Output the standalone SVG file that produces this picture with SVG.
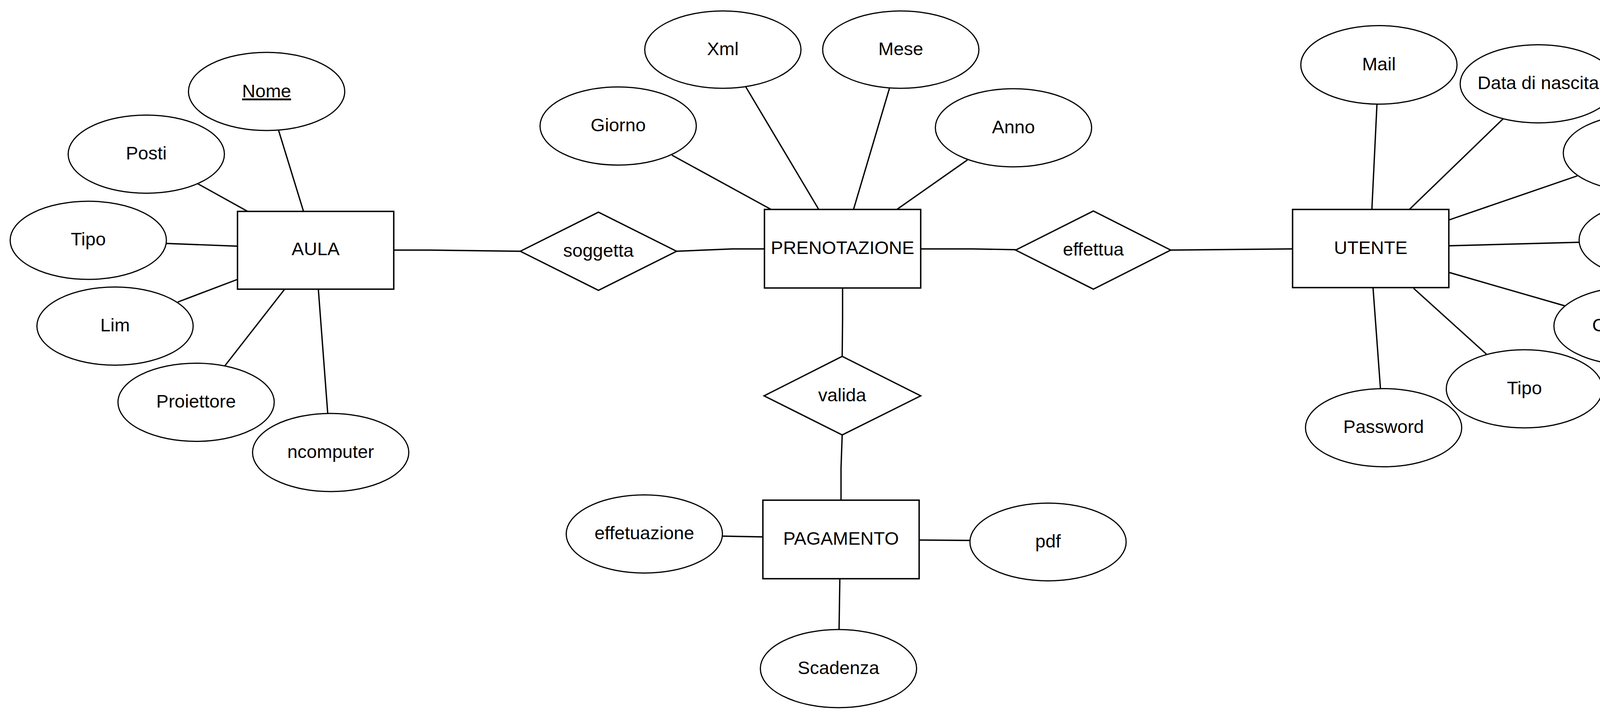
<svg xmlns="http://www.w3.org/2000/svg" width="4472" height="1840" viewBox="0 0 4472 1840">
<style>
.bg{fill:#ffffff}
.ent{fill:#ffffff;stroke:#000000;stroke-width:3.6}
.rel{fill:#ffffff;stroke:#000000;stroke-width:3.4;stroke-linejoin:miter}
.att{fill:#ffffff;stroke:#000000;stroke-width:3}
.lbl{font-family:"Liberation Sans",Arial,sans-serif;font-size:47px;fill:#000000;text-anchor:middle}
.key{text-decoration:underline}
.con{fill:none;stroke:#000000;stroke-width:3.4}
</style>
<rect class="bg" x="0" y="0" width="4472" height="1840"/>
<g id="connectors">
<line class="con" x1="713" y1="333" x2="777" y2="541"/>
<line class="con" x1="506" y1="470" x2="634" y2="541"/>
<line class="con" x1="426" y1="623" x2="608" y2="630"/>
<line class="con" x1="455" y1="773" x2="608" y2="715"/>
<line class="con" x1="575" y1="937" x2="728" y2="741"/>
<line class="con" x1="839" y1="1058" x2="815" y2="741"/>
<polyline class="con" points="1009,640 1100,640 1333,643"/>
<polyline class="con" points="1731,643 1875,637 1957,637"/>
<line class="con" x1="1720" y1="397" x2="1974" y2="536"/>
<line class="con" x1="1909" y1="222" x2="2096" y2="536"/>
<line class="con" x1="2277" y1="226" x2="2185" y2="536"/>
<line class="con" x1="2477" y1="409" x2="2296" y2="536"/>
<polyline class="con" points="2357,637 2490,637 2600,639"/>
<line class="con" x1="2997" y1="640" x2="3309" y2="637"/>
<polyline class="con" points="2157,737 2157,813 2156,912"/>
<polyline class="con" points="2156,1113 2153,1198 2153,1280"/>
<line class="con" x1="1850" y1="1372" x2="1953" y2="1374"/>
<line class="con" x1="2353" y1="1382" x2="2483" y2="1383"/>
<line class="con" x1="2150" y1="1481" x2="2148" y2="1611"/>
<line class="con" x1="3525" y1="267" x2="3512" y2="536"/>
<line class="con" x1="3848" y1="304" x2="3608" y2="536"/>
<line class="con" x1="4038" y1="450" x2="3709" y2="563"/>
<line class="con" x1="4043" y1="620" x2="3709" y2="629"/>
<line class="con" x1="4007" y1="783" x2="3709" y2="697"/>
<line class="con" x1="3806" y1="907" x2="3619" y2="738"/>
<line class="con" x1="3534" y1="995" x2="3515" y2="737"/>
</g>
<g id="AULA"><rect class="ent" x="608" y="541" width="400" height="199"/><text class="lbl" x="808" y="653">AULA</text></g>
<g id="AULA_Nome"><ellipse class="att" cx="682.5" cy="234" rx="200" ry="100"/><text class="lbl key" x="682.5" y="249">Nome</text></g>
<g id="AULA_Posti"><ellipse class="att" cx="374.5" cy="394.5" rx="200" ry="100"/><text class="lbl" x="374.5" y="408">Posti</text></g>
<g id="AULA_Tipo"><ellipse class="att" cx="226" cy="615" rx="200" ry="100"/><text class="lbl" x="226" y="628">Tipo</text></g>
<g id="AULA_Lim"><ellipse class="att" cx="294.5" cy="834.5" rx="200" ry="100"/><text class="lbl" x="294.5" y="848">Lim</text></g>
<g id="AULA_Proiettore"><ellipse class="att" cx="502" cy="1029.5" rx="200" ry="100"/><text class="lbl" x="502" y="1043">Proiettore</text></g>
<g id="AULA_ncomputer"><ellipse class="att" cx="846.5" cy="1158" rx="200" ry="100"/><text class="lbl" x="846.5" y="1172">ncomputer</text></g>
<g id="soggetta"><polygon class="rel" points="1332,643 1532,543 1732,643 1532,743"/><text class="lbl" x="1532" y="657">soggetta</text></g>
<g id="PRENOTAZIONE"><rect class="ent" x="1957" y="536" width="400" height="201"/><text class="lbl" x="2157" y="650">PRENOTAZIONE</text></g>
<g id="PREN_Giorno"><ellipse class="att" cx="1582.5" cy="322.5" rx="200" ry="100"/><text class="lbl" x="1582.5" y="336">Giorno</text></g>
<g id="PREN_Xml"><ellipse class="att" cx="1850.5" cy="127" rx="200" ry="99"/><text class="lbl" x="1850.5" y="141">Xml</text></g>
<g id="PREN_Mese"><ellipse class="att" cx="2306" cy="127" rx="200" ry="99"/><text class="lbl" x="2306" y="141">Mese</text></g>
<g id="PREN_Anno"><ellipse class="att" cx="2594.5" cy="327" rx="200" ry="100"/><text class="lbl" x="2594.5" y="341">Anno</text></g>
<g id="effettua"><polygon class="rel" points="2600,640 2799,540 2997,640 2799,740"/><text class="lbl" x="2799" y="654">effettua</text></g>
<g id="UTENTE"><rect class="ent" x="3309" y="536" width="400" height="200"/><text class="lbl" x="3509" y="650">UTENTE</text></g>
<g id="UT_Mail"><ellipse class="att" cx="3530" cy="166" rx="200" ry="100.5"/><text class="lbl" x="3530" y="180">Mail</text></g>
<g id="UT_Data"><ellipse class="att" cx="3938" cy="214.5" rx="200" ry="100"/><text class="lbl" x="3938" y="228">Data di nascita</text></g>
<g id="UT_CF"><ellipse class="att" cx="4202" cy="391.5" rx="200" ry="99"/><text class="lbl key" xml:space="preserve" x="4203" y="376">CODICE </text><text class="lbl key" xml:space="preserve" x="4203" y="431">FISCALE </text></g>
<g id="UT_Nome"><ellipse class="att" cx="4242.5" cy="614.5" rx="200" ry="100"/><text class="lbl" x="4242.5" y="628">Nome</text></g>
<g id="UT_Cognome"><ellipse class="att" cx="4178" cy="834.5" rx="200" ry="100"/><text class="lbl" x="4178" y="848">Cognome</text></g>
<g id="UT_Tipo"><ellipse class="att" cx="3902.5" cy="995" rx="200" ry="100"/><text class="lbl" x="3902.5" y="1009">Tipo</text></g>
<g id="UT_Password"><ellipse class="att" cx="3542" cy="1094.5" rx="200" ry="100"/><text class="lbl" x="3542" y="1108">Password</text></g>
<g id="valida"><polygon class="rel" points="1956,1013 2156,912 2357,1013 2156,1113"/><text class="lbl" x="2156" y="1027">valida</text></g>
<g id="PAGAMENTO"><rect class="ent" x="1953" y="1280" width="400" height="201"/><text class="lbl" x="2153" y="1394">PAGAMENTO</text></g>
<g id="PAG_effetuazione"><ellipse class="att" cx="1649.5" cy="1366.5" rx="200" ry="100"/><text class="lbl" x="1649.5" y="1380">effetuazione</text></g>
<g id="PAG_pdf"><ellipse class="att" cx="2683" cy="1387" rx="200" ry="99.5"/><text class="lbl" x="2683" y="1401">pdf</text></g>
<g id="PAG_Scadenza"><ellipse class="att" cx="2146.5" cy="1711" rx="200" ry="100"/><text class="lbl" x="2146.5" y="1725">Scadenza</text></g>
</svg>
